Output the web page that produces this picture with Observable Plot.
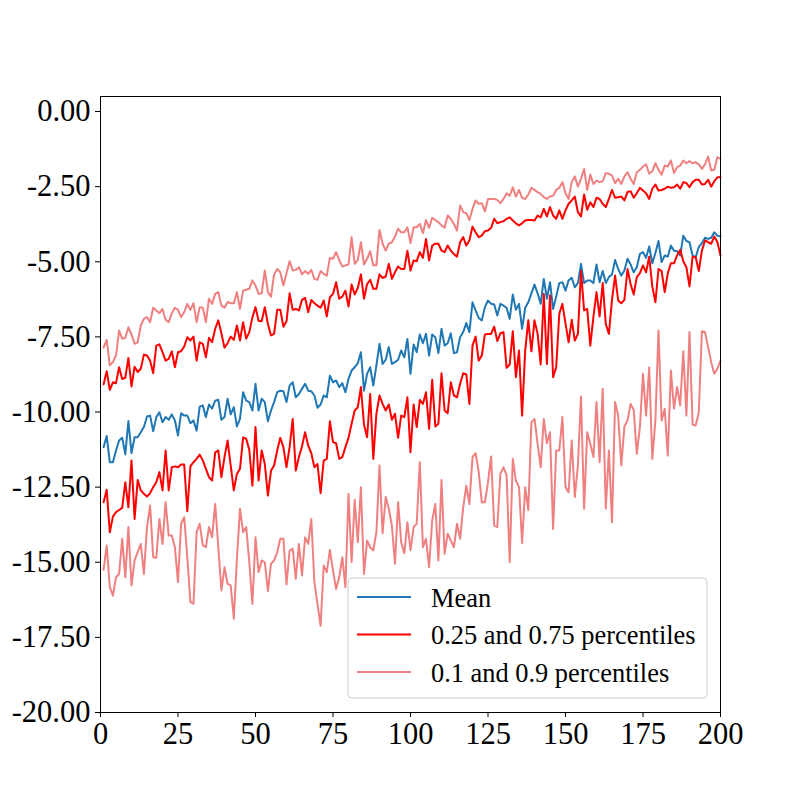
<!DOCTYPE html>
<html>
<head>
<meta charset="utf-8">
<script src="https://cdn.jsdelivr.net/npm/d3@7"></script>
<script src="https://cdn.jsdelivr.net/npm/@observablehq/plot@0.6"></script>
<style>
  html, body { margin: 0; padding: 0; background: white; }
  #chart { width: 800px; height: 800px; }
</style>
</head>
<body>
<div id="chart"></div>
<script>
// x index of each observation
const steps = Array.from({length: 200}, (_, i) => i + 1);

const meanValues = [
-11.17,-10.80,-11.67,-11.67,-11.28,-10.95,-10.86,-11.41,-10.30,-11.37,
-10.84,-10.84,-10.67,-10.50,-10.15,-10.12,-10.64,-10.17,-10.01,-10.34,
-10.17,-10.26,-10.08,-10.28,-10.78,-10.04,-10.12,-10.12,-10.37,-10.28,
-10.62,-9.82,-9.78,-10.17,-9.75,-9.89,-9.62,-9.59,-10.26,-10.17,
-9.56,-10.08,-9.84,-10.48,-10.23,-9.34,-9.62,-9.67,-9.95,-9.06,
-9.95,-9.56,-9.67,-10.31,-9.95,-9.67,-9.34,-9.29,-9.31,-9.67,
-9.12,-9.01,-9.51,-9.40,-9.23,-9.06,-9.29,-9.31,-9.45,-9.86,
-9.75,-9.45,-9.51,-8.79,-9.01,-8.95,-9.17,-9.04,-9.34,-8.90,
-8.62,-8.51,-8.38,-8.01,-9.29,-8.73,-8.51,-9.12,-8.45,-7.73,
-8.40,-8.26,-7.84,-8.40,-8.34,-8.26,-7.95,-8.18,-7.57,-8.73,
-7.75,-8.01,-7.42,-7.71,-7.40,-8.12,-7.42,-7.51,-8.04,-7.23,
-7.79,-7.71,-7.38,-8.04,-8.01,-7.51,-7.34,-7.04,-7.34,-6.35,
-6.62,-6.87,-6.95,-6.51,-6.29,-6.40,-6.42,-6.79,-6.40,-6.46,
-6.53,-6.90,-6.09,-6.60,-6.40,-7.23,-6.53,-6.35,-6.05,-5.76,
-6.05,-6.40,-5.57,-6.23,-5.68,-6.57,-6.16,-5.71,-5.68,-5.96,
-5.62,-5.53,-5.85,-5.71,-5.07,-5.71,-5.62,-5.62,-5.71,-5.09,
-5.68,-5.31,-5.71,-5.51,-5.42,-4.94,-5.24,-5.46,-5.29,-4.90,
-5.09,-5.35,-5.18,-4.74,-4.68,-4.87,-4.49,-5.05,-4.71,-4.31,
-5.01,-4.79,-4.83,-4.46,-4.63,-4.65,-4.79,-4.13,-4.31,-4.35,
-4.79,-4.85,-4.51,-4.38,-4.20,-4.24,-4.20,-4.02,-4.13,-4.16
];

const p75Values = [
-9.08,-8.64,-9.26,-9.01,-9.04,-8.51,-8.90,-8.86,-8.20,-9.15,
-8.49,-8.67,-8.56,-8.09,-8.12,-8.29,-8.71,-7.79,-7.75,-8.01,
-8.29,-8.23,-7.98,-8.51,-8.01,-7.98,-7.82,-7.51,-7.62,-7.49,
-8.29,-7.68,-7.73,-8.18,-7.53,-7.68,-7.23,-6.95,-7.38,-7.86,
-7.71,-7.49,-7.60,-7.12,-7.62,-7.01,-7.56,-7.34,-6.85,-6.51,
-6.96,-6.98,-6.51,-7.07,-7.45,-7.40,-6.60,-6.60,-7.16,-6.98,
-6.05,-6.60,-6.57,-6.62,-6.27,-6.20,-6.68,-6.27,-6.38,-6.46,
-6.53,-6.29,-6.82,-6.18,-6.07,-5.68,-6.23,-6.16,-5.96,-6.49,
-5.76,-6.09,-5.87,-5.42,-6.23,-5.74,-5.60,-5.90,-5.90,-5.42,
-5.54,-5.49,-5.07,-5.57,-5.35,-5.16,-5.24,-5.24,-4.63,-5.29,
-4.96,-4.98,-4.68,-4.87,-4.24,-4.96,-4.46,-4.40,-4.40,-4.63,
-4.68,-4.46,-4.63,-4.74,-4.83,-4.35,-4.18,-4.46,-4.29,-3.83,
-4.02,-4.18,-4.13,-3.98,-3.96,-3.87,-3.57,-3.72,-3.68,-3.65,
-3.57,-3.52,-3.63,-3.72,-3.79,-3.72,-3.63,-3.61,-3.61,-3.63,
-3.46,-3.52,-3.24,-3.49,-3.18,-3.46,-3.57,-3.29,-3.57,-3.29,
-3.07,-2.96,-2.83,-3.35,-3.49,-2.76,-3.27,-3.02,-3.18,-2.87,
-2.91,-3.07,-3.18,-2.91,-2.61,-2.87,-2.85,-2.83,-2.96,-2.68,
-2.65,-2.87,-2.72,-2.54,-2.63,-2.72,-2.91,-2.57,-2.43,-2.63,
-2.61,-2.57,-2.50,-2.54,-2.52,-2.43,-2.57,-2.35,-2.38,-2.52,
-2.35,-2.27,-2.27,-2.43,-2.41,-2.27,-2.50,-2.32,-2.19,-2.19
];

const p90Values = [
-7.86,-7.60,-8.45,-8.34,-8.12,-7.29,-7.56,-7.53,-7.18,-7.42,
-7.73,-7.68,-7.12,-6.90,-6.84,-7.01,-6.53,-6.62,-6.71,-6.57,
-6.93,-7.01,-6.71,-6.53,-6.60,-6.84,-6.68,-6.40,-6.60,-6.38,
-7.01,-6.51,-6.53,-7.01,-6.23,-6.40,-6.07,-6.01,-6.46,-6.53,
-6.34,-6.38,-6.38,-6.01,-6.57,-5.96,-5.93,-5.90,-5.62,-5.79,
-6.07,-6.05,-5.29,-6.01,-6.16,-5.42,-5.24,-5.35,-5.79,-5.38,
-4.98,-5.29,-5.27,-5.18,-5.42,-5.31,-5.40,-5.27,-5.57,-5.60,
-5.31,-5.40,-5.46,-4.87,-4.90,-4.68,-4.94,-5.16,-5.12,-5.09,
-4.18,-5.07,-4.94,-4.35,-5.09,-4.90,-4.65,-5.12,-5.12,-3.94,
-4.40,-4.63,-4.40,-4.35,-4.16,-3.90,-4.02,-4.02,-3.85,-4.38,
-3.85,-3.85,-3.74,-4.05,-3.61,-3.87,-3.54,-3.61,-3.68,-3.79,
-3.87,-3.46,-3.57,-3.74,-3.96,-3.13,-3.35,-3.38,-3.61,-3.24,
-2.96,-3.07,-3.05,-3.32,-2.91,-2.91,-2.91,-2.94,-3.05,-2.91,
-2.72,-2.80,-2.52,-2.83,-2.61,-2.87,-2.91,-2.76,-2.54,-2.61,
-2.68,-2.74,-2.85,-2.91,-2.83,-2.80,-2.61,-2.54,-2.35,-2.72,
-2.91,-2.35,-2.16,-2.50,-2.24,-1.91,-2.61,-2.10,-2.41,-2.30,
-2.35,-2.32,-2.05,-2.07,-2.13,-2.38,-2.24,-2.41,-2.16,-2.02,
-2.24,-2.41,-2.02,-1.94,-1.83,-1.76,-2.07,-1.99,-1.72,-1.94,
-2.10,-1.80,-1.83,-1.63,-2.05,-1.85,-1.80,-1.63,-1.72,-1.65,
-1.72,-1.69,-1.76,-1.91,-1.76,-1.50,-1.96,-1.94,-1.52,-1.58
];

const p25Values = [
-13.00,-12.59,-14.00,-13.48,-13.33,-13.26,-13.19,-12.34,-13.17,-11.61,
-13.56,-12.26,-12.61,-12.72,-12.81,-12.70,-12.50,-12.34,-12.00,-12.61,
-11.28,-12.61,-11.84,-11.81,-11.84,-11.75,-11.75,-13.30,-11.81,-11.67,
-11.56,-11.42,-11.61,-11.89,-12.17,-12.28,-11.34,-11.28,-12.17,-11.50,
-10.95,-11.78,-12.61,-12.06,-11.89,-10.85,-10.89,-11.26,-12.45,-10.50,
-12.28,-11.28,-11.73,-12.78,-11.95,-11.78,-11.28,-10.86,-11.17,-11.84,
-11.17,-10.23,-11.95,-11.50,-11.15,-10.67,-11.12,-11.37,-11.84,-11.73,
-12.70,-11.62,-11.56,-10.31,-11.00,-11.04,-11.56,-11.50,-11.17,-10.86,
-10.39,-9.95,-9.84,-9.17,-10.42,-10.84,-9.40,-11.56,-10.06,-9.45,
-9.73,-9.95,-9.75,-10.26,-10.06,-10.86,-10.12,-10.17,-9.51,-11.34,
-9.75,-10.50,-9.60,-9.73,-9.34,-10.56,-8.93,-10.48,-10.39,-8.71,
-9.95,-10.04,-9.01,-9.45,-9.51,-9.06,-8.71,-8.75,-9.73,-7.79,
-7.49,-8.29,-8.12,-7.42,-7.40,-7.40,-7.16,-7.64,-7.38,-7.34,
-8.53,-8.42,-7.31,-8.84,-7.95,-10.12,-7.95,-6.95,-7.98,-6.95,
-7.40,-8.42,-6.07,-8.40,-6.12,-8.84,-8.51,-6.73,-6.40,-7.05,
-7.68,-6.93,-7.62,-7.40,-5.31,-6.62,-6.57,-7.79,-6.84,-6.01,
-6.82,-5.71,-7.07,-7.40,-6.27,-5.46,-6.29,-6.38,-6.27,-5.24,
-5.74,-6.09,-5.51,-5.38,-5.12,-5.35,-4.83,-5.82,-6.35,-5.24,
-5.31,-6.01,-5.38,-5.05,-5.05,-4.79,-4.60,-4.98,-5.18,-5.82,
-4.83,-4.85,-5.31,-4.63,-4.29,-4.35,-4.40,-4.16,-4.35,-4.79
];

const p10Values = [
-15.25,-14.44,-15.83,-16.11,-15.50,-15.39,-14.22,-15.50,-13.83,-15.77,
-14.94,-14.66,-14.39,-15.39,-13.83,-13.11,-14.83,-14.85,-13.56,-14.39,
-13.00,-14.11,-14.11,-14.50,-15.66,-13.72,-13.50,-14.83,-16.33,-16.38,
-14.00,-13.72,-14.44,-14.50,-13.83,-14.17,-13.06,-14.50,-15.94,-15.17,
-15.72,-15.77,-16.88,-14.89,-13.22,-14.00,-13.83,-15.00,-16.39,-14.17,
-15.33,-14.94,-15.00,-15.96,-15.05,-14.94,-14.67,-14.22,-14.22,-15.74,
-14.61,-14.55,-15.55,-14.39,-15.44,-14.17,-14.39,-13.56,-15.66,-16.39,
-17.11,-15.11,-15.33,-14.59,-15.28,-15.89,-15.50,-14.83,-15.83,-12.72,
-15.00,-12.92,-14.33,-12.50,-15.39,-14.28,-14.50,-14.61,-14.00,-11.78,
-14.03,-12.83,-13.22,-13.78,-15.05,-13.00,-14.33,-14.70,-13.67,-14.60,
-13.83,-13.72,-11.67,-14.50,-14.22,-15.16,-13.61,-13.06,-14.94,-12.26,
-14.72,-14.05,-14.28,-14.50,-13.72,-14.22,-13.17,-12.45,-13.06,-11.50,
-11.37,-12.00,-13.00,-13.00,-12.34,-11.48,-13.78,-13.83,-12.06,-11.84,
-12.11,-15.00,-11.56,-12.28,-12.50,-14.36,-12.50,-13.26,-10.34,-10.23,
-11.06,-11.84,-10.23,-11.04,-10.67,-13.89,-11.28,-11.28,-10.17,-12.50,
-12.67,-10.95,-12.83,-11.78,-9.48,-13.22,-10.67,-11.06,-11.50,-9.67,
-11.67,-9.23,-13.22,-11.28,-13.67,-9.67,-10.12,-11.78,-10.48,-10.28,
-9.73,-9.93,-11.39,-10.50,-8.73,-10.12,-8.51,-11.56,-10.28,-7.29,
-10.28,-9.89,-11.45,-8.62,-9.89,-9.17,-9.78,-7.98,-10.12,-7.34,
-10.42,-10.45,-10.01,-7.31,-7.34,-7.84,-8.34,-8.73,-8.56,-8.29
];

const xTicks = [0, 25, 50, 75, 100, 125, 150, 175, 200];
const yTicks = [-20, -17.5, -15, -12.5, -10, -7.5, -5, -2.5, 0];
const legendLabels = ["Mean", "0.25 and 0.75 percentiles", "0.1 and 0.9 percentiles"];
const colors = {mean: "#1f77b4", q1: "#ff0000", q2: "#f08080"};
const serif = "'Liberation Serif', 'Times New Roman', serif";

const rows = (vals) => steps.map((x, i) => ({x, y: vals[i]}));

const chart = Plot.plot({
  width: 800,
  height: 800,
  marginLeft: 100,
  marginRight: 80,
  marginTop: 96,
  marginBottom: 88,
  style: {fontFamily: serif, fontSize: "30.5px", background: "white", color: "black"},
  x: {domain: [0, 200]},
  y: {domain: [-20, 0.5]},
  marks: [
    Plot.lineY(rows(meanValues), {x: "x", y: "y", stroke: colors.mean, strokeWidth: 2}),
    Plot.lineY(rows(p25Values), {x: "x", y: "y", stroke: colors.q1, strokeWidth: 2}),
    Plot.lineY(rows(p75Values), {x: "x", y: "y", stroke: colors.q1, strokeWidth: 2}),
    Plot.lineY(rows(p10Values), {x: "x", y: "y", stroke: colors.q2, strokeWidth: 2}),
    Plot.lineY(rows(p90Values), {x: "x", y: "y", stroke: colors.q2, strokeWidth: 2}),
    Plot.axisX({ticks: xTicks, tickSize: 5, tickPadding: 5, label: null, tickFormat: d => String(d), fontSize: 30.5}),
    Plot.axisY({ticks: yTicks, tickSize: 5, tickPadding: 5, label: null, tickFormat: d => d.toFixed(2), fontSize: 30.5}),
    Plot.frame({stroke: "black", strokeWidth: 1})
  ]
});

document.getElementById("chart").appendChild(chart);

// legend inside the axes (lower right)
const svg = d3.select(chart);
const lg = svg.append("g").attr("class", "legend");
lg.append("rect")
  .attr("x", 348).attr("y", 578).attr("width", 359).attr("height", 120)
  .attr("rx", 4).attr("ry", 4)
  .attr("fill", "white").attr("fill-opacity", 0.8)
  .attr("stroke", "#cccccc").attr("stroke-width", 1);
const legendColors = [colors.mean, colors.q1, colors.q2];
legendLabels.forEach((label, i) => {
  const cy = 597 + i * 37.5;
  lg.append("line")
    .attr("x1", 357).attr("x2", 411).attr("y1", cy).attr("y2", cy)
    .attr("stroke", legendColors[i]).attr("stroke-width", 2);
  lg.append("text")
    .attr("x", 431).attr("y", cy + 9.5)
    .attr("text-anchor", "start")
    .attr("font-size", "26.4px")
    .attr("font-family", serif)
    .attr("fill", "black")
    .text(label);
});
</script>
</body>
</html>
